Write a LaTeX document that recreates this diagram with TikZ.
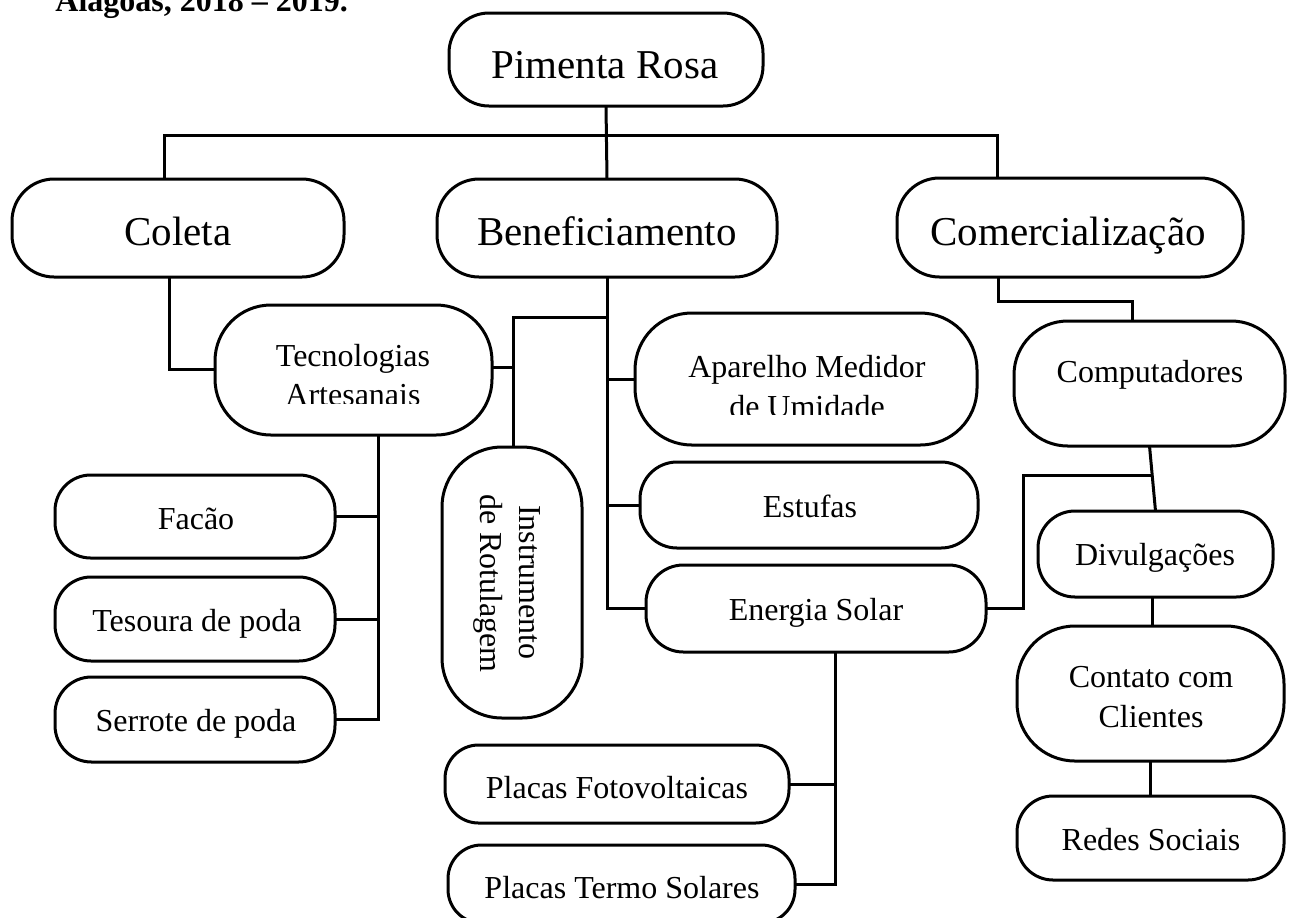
\documentclass[tikz,border=0pt]{standalone}
\usepackage{fontspec}
\setmainfont{Liberation Serif}
\usetikzlibrary{calc}
\newcommand\RBox[5]{%
  \pgfmathsetmacro\rbw{(#4-#2)/2}%
  \pgfmathsetmacro\rbh{(#5-#3)/2}%
  \pgfmathsetmacro\rbr{0.43*min(\rbw,\rbh)}%
  \node[rbox, minimum width=\rbw pt, minimum height=\rbh pt, rounded corners=\rbr pt] (#1) at ({(#2+#4)/2},{(#3+#5)/2}) {};%
}
\begin{document}
\begin{tikzpicture}[x=0.5pt,y=-0.5pt,
  rbox/.style={draw,line width=1.5pt,inner sep=0pt,outer sep=0pt},
  conn/.style={line width=1.5pt},
  big/.style={inner sep=0pt,anchor=base,font=\fontsize{20.5}{24}\selectfont},
  small/.style={inner sep=0pt,anchor=base,font=\fontsize{16}{19.5}\selectfont}]
\useasboundingbox (0,0) rectangle (1290,917);
\fill[white] (0,0) rectangle (1290,917);

% title (cut by the top edge, as in the reference)
\node[inner sep=0pt,anchor=base west,font=\fontsize{16}{19}\selectfont\bfseries] (title) at (55,11) {Alagoas, 2018 – 2019.};

% boxes
\RBox{pimenta}{449}{13}{763}{106}
\RBox{coleta}{12}{179}{344}{277}
\RBox{benef}{437}{179}{777}{277}
\RBox{comerc}{897}{178}{1243}{277}
\RBox{tecno}{215}{305}{492}{435}
\RBox{instr}{442}{447}{582}{718}
\RBox{aparelho}{635}{313}{977}{445}
\RBox{estufas}{640}{462}{978}{548}
\RBox{energia}{646}{565}{986}{652}
\RBox{fotov}{445}{745}{789}{823}
\RBox{termo}{448}{845}{795}{923}
\RBox{facao}{55}{475}{335}{558}
\RBox{tesoura}{55}{577}{335}{661}
\RBox{serrote}{55}{677}{335}{762}
\RBox{comput}{1014}{321}{1285}{446}
\RBox{divulg}{1038}{511}{1273}{597}
\RBox{contato}{1017}{626}{1284}{761}
\RBox{redes}{1017}{796}{1284}{880}

% texts
\node[big] (t-pimenta) at (605,78) {Pimenta Rosa};
\node[big] (t-coleta) at (178,245) {Coleta};
\node[big] (t-benef) at (607,245) {Beneficiamento};
\node[big] (t-comerc) at (1068,245) {Comercialização};
\begin{scope}
  \clip (215,305) rectangle (492,403);
  \node[small] (t-tecno1) at (353,366) {Tecnologias};
  \node[small] (t-tecno2) at (353,405) {Artesanais};
\end{scope}
\begin{scope}
  \clip (635,313) rectangle (977,414);
  \node[small] (t-ap1) at (807,377) {Aparelho Medidor};
  \node[small] (t-ap2) at (807,417) {de Umidade};
\end{scope}
\node[small,rotate=-90] (t-instr1) at (519,582.5) {Instrumento};
\node[small,rotate=-90] (t-instr2) at (480,583.5) {de Rotulagem};
\node[small] (t-estufas) at (810,517) {Estufas};
\node[small] (t-energia) at (816,620) {Energia Solar};
\node[small] (t-fotov) at (617,798) {Placas Fotovoltaicas};
\node[small] (t-termo) at (622,898) {Placas Termo Solares};
\node[small] (t-facao) at (196,529) {Facão};
\node[small] (t-tesoura) at (197,631) {Tesoura de poda};
\node[small] (t-serrote) at (196,731) {Serrote de poda};
\node[small] (t-comput) at (1150,382) {Computadores};
\node[small] (t-divulg) at (1155,565) {Divulgações};
\node[small] (t-contato1) at (1151,687) {Contato com};
\node[small] (t-contato2) at (1151,727) {Clientes};
\node[small] (t-redes) at (1151,850) {Redes Sociais};

% connectors
\coordinate (barL) at (164,135);
\coordinate (barR) at (997,135);
\draw[conn] (barL |- coleta.north) -- (barL) -- (barR) -- (barR |- comerc.north);
\draw[conn] (pimenta.south) -- (benef.north);

\coordinate (cv) at (169,369);
\draw[conn] (cv |- coleta.south) -- (cv) -- (cv -| tecno.west);

\coordinate (tv) at (378,0);
\draw[conn] (tv |- tecno.south) -- (tv |- serrote.east) -- (serrote.east);
\draw[conn] (facao.east) -- (facao.east -| tv);
\draw[conn] (tesoura.east) -- (tesoura.east -| tv);

\coordinate (iv) at (513,367);
\draw[conn] (tecno.east |- iv) -- (iv);
\coordinate (itop) at (513,317);
\draw[conn] (iv |- instr.north) -- (itop) -- (itop -| benef.south);

\draw[conn] (benef.south) |- (energia.west);
\draw[conn] (benef.south |- aparelho.west) -- (aparelho.west);
\draw[conn] (benef.south |- estufas.west) -- (estufas.west);

\coordinate (ev) at (835,0);
\draw[conn] (ev |- energia.south) |- (termo.east);
\draw[conn] (fotov.east) -- (fotov.east -| ev);

\coordinate (ej) at (1023,475);
\draw[conn] (energia.east) -| (ej) -- (ej -| 1152,0);

\coordinate (c1) at (998,301);
\coordinate (c2) at (1132,301);
\draw[conn] (c1 |- comerc.south) -- (c1) -- (c2) -- (c2 |- comput.north);

\draw[conn] (comput.south) -- (divulg.north);
\draw[conn] (divulg.south -| 1152,0) -- (contato.north -| 1152,0);
\draw[conn] (contato.south) -- (redes.north);
\end{tikzpicture}
\end{document}
